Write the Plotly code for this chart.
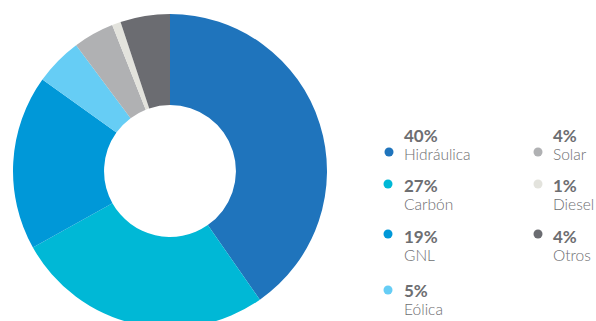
import plotly.graph_objects as go

# ---- data ----
categories = ["Hidráulica", "Carbón", "GNL", "Eólica", "Solar", "Diesel", "Otros"]
shares = [40.3, 26.6, 18.0, 4.9, 4.2, 0.9, 5.1]          # slice sizes
pct_labels = ["40%", "27%", "19%", "5%", "4%", "1%", "4%"]  # percentages printed in the legend
colors = ["#1f74bc", "#00b8d6", "#0098d8", "#66cdf5", "#b0b1b3", "#e3e3dd", "#6b6c71"]

W, H = 596, 342
fig = go.Figure()

cx, r = 170, 157
fig.add_trace(go.Pie(
    labels=categories, values=shares, sort=False, direction="clockwise", rotation=0,
    hole=0.42, textinfo="none", hoverinfo="label+percent",
    marker=dict(colors=colors, line=dict(color="white", width=0)),
    domain=dict(x=[(cx - r) / W, (cx + r) / W], y=[0, 1]),
    showlegend=False,
))

# legend layout (pixel positions)
leg = [
    # (x_dot, y_dot, x_text, y_pct, y_label)
    (389, 152, 402, 135, 153),
    (388, 184, 402, 185, 203),
    (388, 234, 402, 236, 253),
    (388, 290, 402, 291, 307),
    (538, 152, 551, 135, 153),
    (538, 184, 551, 185, 203),
    (538, 234, 551, 236, 253),
]
shapes, annotations = [], []
for i, (xd, yd, xt, yp, yl) in enumerate(leg):
    shapes.append(dict(type="circle", xref="paper", yref="paper",
                       xsizemode="pixel", ysizemode="pixel",
                       xanchor=xd / W, yanchor=1 - yd / H,
                       x0=-4.5, x1=4.5, y0=-4.5, y1=4.5,
                       fillcolor=colors[i], line=dict(width=0)))
    annotations.append(dict(
        x=xt / W, y=1 - (yp + yl) / 2 / H, xref="paper", yref="paper",
        xanchor="left", yanchor="middle", align="left", showarrow=False,
        text=("<span style='font-size:17px'><b>" + pct_labels[i] + "</b></span><br>"
              "<span style='font-size:15.5px'>" + categories[i] + "</span>"),
        font=dict(family="Lato", size=13.5, color="#6d6e71", weight=300)))

fig.update_layout(width=W, height=H, margin=dict(l=0, r=0, t=0, b=0),
                  paper_bgcolor="white", plot_bgcolor="white",
                  shapes=shapes, annotations=annotations)

fig.write_html("out.html", config={"displayModeBar": False},
               post_script="document.body.style.margin='0';document.body.style.overflow='hidden';document.documentElement.style.overflow='hidden';")
